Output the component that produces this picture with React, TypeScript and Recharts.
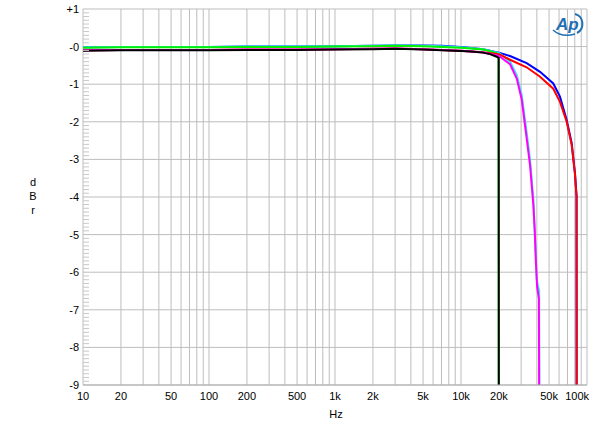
import { LineChart, Line, XAxis, YAxis, CartesianGrid } from "recharts";

// frequency grid lines (all 1..9 per decade), only some get a label
const GRID_HZ = [
  10, 20, 30, 40, 50, 60, 70, 80, 90,
  100, 200, 300, 400, 500, 600, 700, 800, 900,
  1000, 2000, 3000, 4000, 5000, 6000, 7000, 8000, 9000,
  10000, 20000, 30000, 40000, 50000, 60000, 70000, 80000, 90000,
  100000,
];
const HZ_LABELS: Record<number, string> = {
  10: "10", 20: "20", 50: "50", 100: "100", 200: "200", 500: "500",
  1000: "1k", 2000: "2k", 5000: "5k", 10000: "10k", 20000: "20k",
  50000: "50k", 100000: "100k",
};
const DB_TICKS = [1, 0, -1, -2, -3, -4, -5, -6, -7, -8, -9];
const DB_LABELS = ["+1", "-0", "-1", "-2", "-3", "-4", "-5", "-6", "-7", "-8", "-9"];

// 44.1kHz, black = ch1, green = ch2
const BLACK_HZ = [10, 20, 50, 100, 200, 500, 1000, 2000, 3000, 5000, 7000, 10000, 12000, 15000, 17000, 19200, 19900, 19950];
const BLACK_DB = [-0.11, -0.1, -0.1, -0.1, -0.09, -0.09, -0.08, -0.07, -0.06, -0.08, -0.1, -0.12, -0.13, -0.16, -0.2, -0.27, -0.3, -10];
const GREEN_HZ = [10, 20, 50, 100, 200, 500, 1000, 2000, 3000, 5000, 7000, 10000, 12000, 15000, 17000, 19200, 19900, 19950];
const GREEN_DB = [-0.03, -0.02, -0.02, -0.02, -0.01, -0.01, 0, 0.01, 0.02, 0.01, -0.01, -0.03, -0.05, -0.08, -0.12, -0.18, -0.21, -10];

// 96kHz, magenta = ch1, cyan = ch2
const MAGENTA_HZ = [10, 20, 50, 100, 200, 500, 1000, 2000, 3000, 5000, 7000, 10000, 15000, 20000, 24500, 27700, 30300, 32800, 35300, 37500, 38500, 39400, 40200, 41500, 41800];
const MAGENTA_DB = [-0.1, -0.09, -0.09, -0.09, -0.08, -0.08, -0.07, -0.06, -0.05, -0.07, -0.09, -0.11, -0.16, -0.25, -0.47, -0.85, -1.4, -2.3, -3.15, -4.2, -4.9, -5.8, -6.4, -6.7, -10];
const CYAN_HZ = [10, 20, 50, 100, 200, 500, 1000, 2000, 3000, 5000, 7000, 10000, 15000, 20000, 24500, 27700, 30300, 32800, 35300, 37500, 39900, 41700, 42000];
const CYAN_DB = [-0.02, -0.01, -0.01, -0.01, 0, 0, 0.01, 0.02, 0.03, 0.02, 0.01, -0.02, -0.07, -0.17, -0.4, -0.76, -1.28, -2.15, -3.0, -4.05, -6.2, -6.5, -10];

// 192kHz, red = ch1, blue = ch2
const RED_HZ = [10, 20, 50, 100, 200, 500, 1000, 2000, 3000, 5000, 7000, 10000, 15000, 20000, 24500, 33200, 42400, 54000, 61000, 69000, 75600, 80300, 82500, 82800];
const RED_DB = [-0.1, -0.09, -0.09, -0.09, -0.08, -0.08, -0.07, -0.06, -0.05, -0.07, -0.09, -0.11, -0.15, -0.2, -0.35, -0.55, -0.8, -1.12, -1.47, -2.0, -2.62, -3.4, -3.98, -10];
const BLUE_HZ = [10, 20, 50, 100, 200, 500, 1000, 2000, 3000, 5000, 7000, 10000, 15000, 20000, 24500, 33200, 42400, 54000, 61000, 69000, 75600, 80300, 82000, 82700, 82800];
const BLUE_DB = [-0.02, -0.01, -0.01, -0.01, 0, 0, 0.01, 0.02, 0.03, 0.03, 0.02, -0.01, -0.07, -0.16, -0.25, -0.44, -0.67, -0.98, -1.33, -1.95, -2.57, -3.37, -3.81, -3.97, -10];

const toRows = (hz: number[], db: number[]) => hz.map((f, i) => ({ f, db: db[i] }));

const SERIES = [
  { name: "blue", color: "#0000ff", data: toRows(BLUE_HZ, BLUE_DB) },
  { name: "cyan", color: "#33e6f0", data: toRows(CYAN_HZ, CYAN_DB) },
  { name: "green", color: "#00f000", data: toRows(GREEN_HZ, GREEN_DB) },
  { name: "red", color: "#ff0000", data: toRows(RED_HZ, RED_DB) },
  { name: "magenta", color: "#ff00ff", data: toRows(MAGENTA_HZ, MAGENTA_DB) },
  { name: "black", color: "#000000", data: toRows(BLACK_HZ, BLACK_DB) },
];

// small ticks every 0.1 dB along the left edge
const MINOR_TICKS: number[] = [];
for (let i = -89; i <= 9; i++) if (i % 10 !== 0) MINOR_TICKS.push(i / 10);

const FONT = "'Liberation Sans', Arial, sans-serif";

function XTick(props: any) {
  const { x, y, payload } = props;
  const label = HZ_LABELS[payload.value];
  if (!label) return <g />;
  const last = payload.value === 100000;
  return (
    <text x={last ? x + 2 : x} y={y - 1} dy="0.71em" textAnchor={last ? "end" : "middle"} fontSize={11} fontFamily={FONT} fill="#000">
      {label}
    </text>
  );
}

function YTick(props: any) {
  const { y, payload } = props;
  const idx = DB_TICKS.indexOf(payload.value);
  return (
    <text x={79} y={y} dy="0.36em" textAnchor="end" fontSize={11} fontFamily={FONT} fill="#000">
      {DB_LABELS[idx]}
    </text>
  );
}

function Overlay() {
  return (
    <svg width={600} height={428} style={{ position: "absolute", left: 0, top: 0, pointerEvents: "none" }}>
      <text x={556} y={30} fontSize={17} fontStyle="italic" fontWeight="bold" fontFamily={FONT} fill="#1f6fb2">
        Ap
      </text>
      <path d="M 575 14 A 9 10 0 0 1 577 33" stroke="#1f6fb2" strokeWidth={2} fill="none" />
      <path d="M 553 30 Q 562 38 575 34" stroke="#1f6fb2" strokeWidth={1.5} fill="none" />
      <text x={33} y={186} textAnchor="middle" fontSize={11} fontFamily={FONT}>d</text>
      <text x={33} y={200} textAnchor="middle" fontSize={11} fontFamily={FONT}>B</text>
      <text x={33} y={214} textAnchor="middle" fontSize={11} fontFamily={FONT}>r</text>
      <text x={336} y={418} textAnchor="middle" fontSize={11} fontFamily={FONT}>Hz</text>
    </svg>
  );
}

export default function App() {
  return (
    <div style={{ position: "relative", width: 600, height: 428, background: "#fff" }}>
      <style>{`body{margin:0}`}</style>
      <LineChart width={600} height={428} margin={{ top: 9, right: 13, left: 0, bottom: 0 }}>
        <CartesianGrid stroke="#bdbdbd" strokeWidth={1} />
        <XAxis
          dataKey="f"
          type="number"
          scale="log"
          domain={[10, 100000]}
          allowDataOverflow
          ticks={GRID_HZ}
          interval={0}
          tick={<XTick />}
          tickLine={false}
          axisLine={{ stroke: "#b0b0b0" }}
          height={43}
        />
        <YAxis
          type="number"
          domain={[-9, 1]}
          allowDataOverflow
          ticks={DB_TICKS}
          interval={0}
          tick={<YTick />}
          tickLine={false}
          axisLine={false}
          width={83}
        />
        <YAxis
          yAxisId="minor"
          type="number"
          domain={[-9, 1]}
          allowDataOverflow
          ticks={MINOR_TICKS}
          interval={0}
          mirror
          tick={() => <g />}
          tickSize={6}
          tickLine={{ stroke: "#c8c8c8" }}
          axisLine={false}
          width={6}
        />
        {SERIES.map((s) => (
          <Line
            key={s.name}
            data={s.data}
            dataKey="db"
            type="linear"
            stroke={s.color}
            strokeWidth={2}
            dot={false}
            isAnimationActive={false}
          />
        ))}
      </LineChart>
      <Overlay />
    </div>
  );
}
